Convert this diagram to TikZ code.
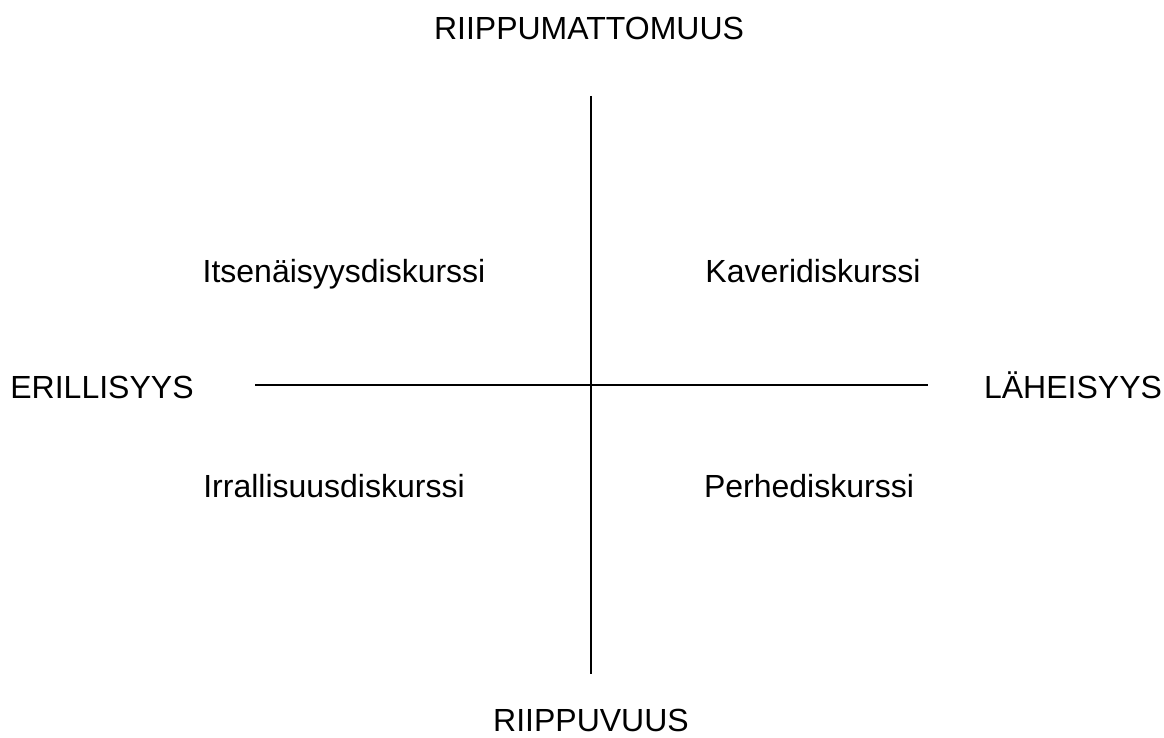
\documentclass[tikz,border=0pt]{standalone}
\usepackage{fontspec}
\setmainfont{Liberation Sans}
\tikzset{
  lbl/.style={anchor=base, inner sep=0pt, font=\fontsize{32}{38}\selectfont},
  axis/.style={line width=2pt, black}
}
\begin{document}
\begin{tikzpicture}[x=1pt,y=-1pt]
\useasboundingbox (0,0) rectangle (1164,738);
\node[lbl] (top) at (589,40) {RIIPPUMATTOMUUS};
\node[lbl] (bot) at (591,731) {RIIPPUVUUS};
\node[lbl] (left) at (102,398) {ERILLISYYS};
\node[lbl] (right) at (1073,398) {LÄHEISYYS};
\node[lbl] (q1) at (344,282) {Itsenäisyysdiskurssi};
\node[lbl] (q2) at (813,282) {Kaveridiskurssi};
\node[lbl] (q3) at (334,497) {Irrallisuusdiskurssi};
\node[lbl] (q4) at (809,497) {Perhediskurssi};
\coordinate (vt) at (591,96);
\coordinate (vb) at (591,674);
\coordinate (hl) at (255,385);
\coordinate (hr) at (928,385);
\draw[axis] (vt) -- (vb);
\draw[axis] (hl) -- (hr);
\end{tikzpicture}
\end{document}
